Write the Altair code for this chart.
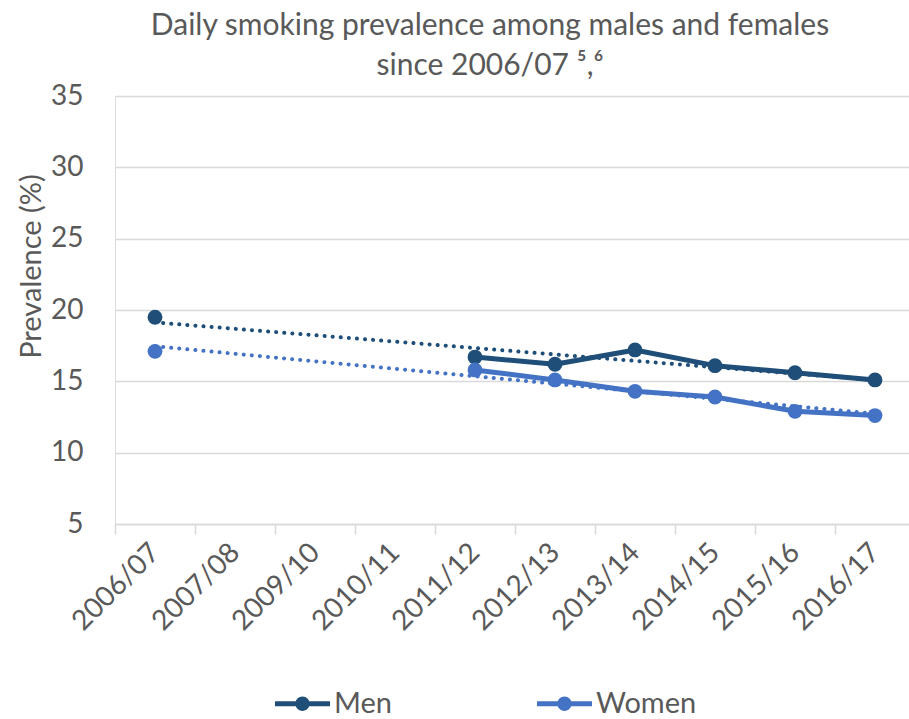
import altair as alt
import pandas as pd

years = ["2006/07", "2007/08", "2009/10", "2010/11", "2011/12",
         "2012/13", "2013/14", "2014/15", "2015/16", "2016/17"]
men = [19.5, None, None, None, 16.7, 16.2, 17.2, 16.1, 15.6, 15.1]
women = [17.1, None, None, None, 15.8, 15.1, 14.3, 13.9, 12.9, 12.6]
series_names = ["Men", "Women"]
series_colors = ["#1F4E79", "#4472C4"]
y_ticks = [5, 10, 15, 20, 25, 30, 35]

rows = []
for i, yr in enumerate(years):
    for name, vals in zip(series_names, [men, women]):
        rows.append({"idx": i, "year": yr, "series": name, "value": vals[i]})
df = pd.DataFrame(rows)

FONT = "Lato"
TXT = "#595959"
GRID = "#D9D9D9"

label_expr = "[" + ",".join(f"'{y}'" for y in years) + "][datum.value]"

x_enc = alt.X(
    "idx:Q",
    scale=alt.Scale(domain=[-0.5, 9.425], nice=False, zero=False),
    axis=alt.Axis(
        values=list(range(len(years))), labelExpr=label_expr, title=None, grid=False,
        tickOffset=-40, labelOffset=40, tickSize=10, tickColor=GRID, tickWidth=1.5,
        domainColor=GRID, domainWidth=1.5, labelAngle=315, labelAlign="right",
        labelBaseline="middle", labelPadding=14, labelFontSize=28, labelColor=TXT,
        labelFont=FONT, labelOverlap=False, labelFlush=False, labelBound=False,
    ),
)
y_enc = alt.Y(
    "value:Q",
    scale=alt.Scale(domain=[5, 35], nice=False, zero=False),
    axis=alt.Axis(
        values=y_ticks, title="Prevalence (%)", domain=False, ticks=False,
        gridColor=GRID, gridWidth=1.5, labelPadding=32, labelFontSize=28,
        labelColor=TXT, labelFont=FONT, titleFont=FONT, titleFontSize=29,
        titleColor=TXT, titleFontWeight="normal", titleX=-84, titleY=170,
        titleAlign="center", titleBaseline="middle", titleAngle=270,
    ),
)

# legend scale (explicit domain) and line scale (data domain) kept distinct so
# Vega-Lite does not merge the hidden stroke legend with the visible one
legend_scale = alt.Scale(domain=series_names, range=series_colors)
stroke_scale = alt.Scale(range=series_colors)

legend_path = ("M-1,-0.09L1,-0.09L1,0.09L-1,0.09Z "
               "M-0.26,0A0.26,0.26 0 1,1 0.26,0A0.26,0.26 0 1,1 -0.26,0Z")

base = alt.Chart(df)

lines = base.transform_filter("datum.idx >= 4 && isValid(datum.value)").mark_line(
    strokeWidth=5, strokeJoin="round"
).encode(
    x=x_enc, y=y_enc,
    stroke=alt.Stroke("series:N", scale=stroke_scale, legend=None),
)

points = base.transform_filter("isValid(datum.value)").mark_circle(
    size=220, opacity=1
).encode(
    x=x_enc, y=y_enc,
    color=alt.Color(
        "series:N", scale=legend_scale,
        legend=alt.Legend(
            title=None, orient="none", legendX=160, legendY=580, direction="horizontal",
            columns=2, columnPadding=145, symbolType=legend_path, symbolSize=3025,
            symbolStrokeWidth=0, symbolOpacity=1, labelFont=FONT, labelFontSize=29,
            labelColor=TXT, labelOffset=4, labelLimit=300,
        ),
    ),
)

trend = base.transform_filter("isValid(datum.value)").transform_regression(
    "idx", "value", groupby=["series"]
).mark_line(strokeDash=[0.1, 8], strokeCap="round", strokeWidth=4).encode(
    x=x_enc, y=y_enc,
    stroke=alt.Stroke("series:N", scale=stroke_scale, legend=None),
)

chart = alt.layer(lines, points, trend).properties(
    width=794, height=428,
    title=alt.Title(
        ["Daily smoking prevalence among males and females", "since 2006/07 \u2075,\u2076"],
        font=FONT, fontSize=30, fontWeight="normal", color=TXT, anchor="middle",
        dx=-22, offset=1, lineHeight=40,
    ),
    autosize=alt.AutoSizeParams(type="none"),
    padding={"left": 115, "top": 96, "right": 0, "bottom": 195},
).configure_view(stroke=None).configure(background="white")

chart.save("out.html", embed_options={"renderer": "svg", "actions": False})
